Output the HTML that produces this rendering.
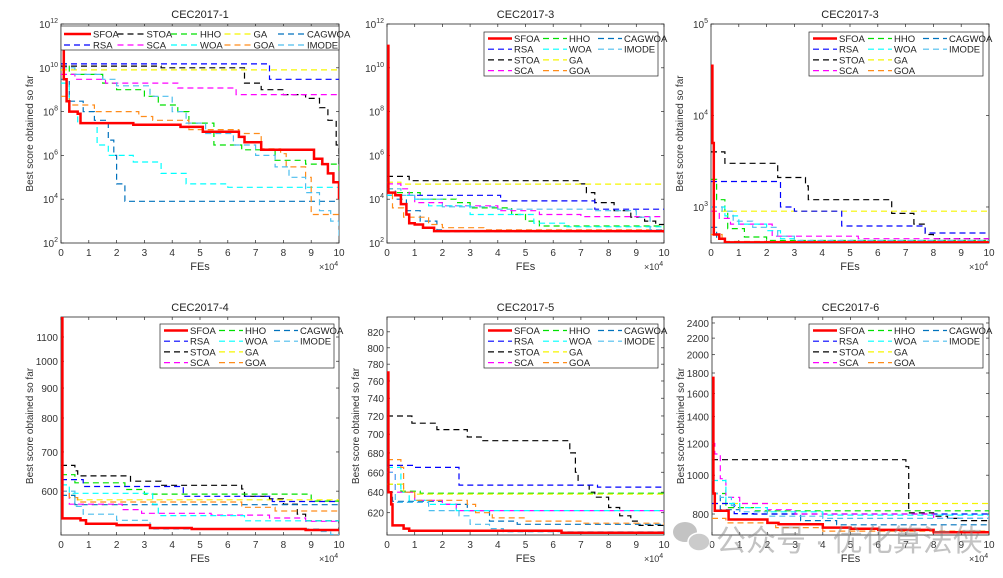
<!DOCTYPE html>
<html><head><meta charset="utf-8">
<style>
html,body{margin:0;padding:0;background:#fff;}
svg{display:block;font-family:"Liberation Sans",Arial,sans-serif;}
</style></head>
<body>
<svg id="fig" width="1003" height="578" viewBox="0 0 1003 578" xmlns="http://www.w3.org/2000/svg"></svg>
<script>
// ---------- data (x in units of 1e4 FEs, y = best score) ----------
const P1_SFOA=[[0,8e10],[0.1,3e9],[0.2,3e8],[0.3,1e8],[0.6,8e7],[0.7,3e7],[2.6,2.5e7],[4.3,2e7],[5.1,1.2e7],[6.4,7e6],[6.6,4e6],[7.2,1.8e6],[9.1,7e5],[9.4,4e5],[9.6,1.5e5],[9.8,6e4],[10,1e4]];
const P1_STOA=[[0,1.2e10],[3.6,1e10],[6.6,2e9],[7.2,1e9],[8.0,6e8],[8.8,4e8],[9.3,1.5e8],[9.6,4e7],[9.9,3e6],[10,3e5]];
const P1_HHO=[[0,1.5e10],[0.3,5e9],[1.5,2e9],[2,1e9],[3,5e8],[3.5,2e8],[4.2,1e8],[4.6,3e7],[5.5,3e6],[6.5,1.8e6],[7.7,6e5],[8.8,4e5],[10,2e5]];
const P1_GA=[[0,8e9],[10,8e9]];
const P1_CAGWOA=[[0,3e9],[0.3,3e8],[0.8,1e8],[1.2,4e7],[1.7,5e6],[1.9,1e6],[2.0,5e4],[2.3,8e3],[10,8e3]];
const P1_RSA=[[0,1.5e10],[7.5,3e9],[10,3e9]];
const P1_SCA=[[0,5e9],[0.5,3e9],[1.6,2e9],[4.2,1.2e9],[6.3,6e8],[10,6e8]];
const P1_WOA=[[0,2e9],[0.3,1e8],[0.6,3e7],[1.3,3e6],[1.7,1e6],[2.6,5e5],[3.6,1.5e5],[4.5,5e4],[6,3.5e4],[10,3.5e4]];
const P1_GOA=[[0,5e8],[0.3,2e8],[1.2,1e8],[2.8,6e7],[3.3,4e7],[4.6,1.5e7],[6.4,1e7],[7.2,2e6],[7.9,1.2e6],[8.1,3e5],[8.8,1e5],[9,2e3],[10,2e3]];
const P1_IMODE=[[0,1e10],[0.5,5e9],[1.5,3e9],[2,1.5e9],[3.2,5e8],[4,1e8],[4.5,3e7],[5.2,1e7],[6.2,3e6],[7,1e6],[7.7,3e5],[8.2,1e5],[8.8,2e4],[9.3,3e3],[9.7,1e3],[10,2e2]];

const P2_SFOA=[[0,1e11],[0.05,2e4],[0.3,1.5e4],[0.5,6e3],[0.7,2e3],[0.8,800],[1.0,700],[1.3,500],[1.7,350],[10,300]];
const P2_STOA=[[0,1.1e5],[0.8,7e4],[6.9,5e4],[7.2,2e4],[7.5,7e3],[8.2,3e3],[8.8,1.5e3],[9.3,1e3],[9.7,700],[10,700]];
const P2_HHO=[[0,2e4],[1.2,1e4],[2.5,7e3],[3,4e3],[4.5,2e3],[5,1e3],[5.5,600],[10,500]];
const P2_GA=[[0,6e4],[0.5,4.9e4],[10,4.9e4]];
const P2_CAGWOA=[[0,3e4],[0.3,1e4],[0.7,3e3],[1.2,1e3],[1.8,400],[2,330],[10,330]];
const P2_RSA=[[0,1.5e4],[4.1,8.4e3],[7.5,3.5e3],[10,3.5e3]];
const P2_SCA=[[0,5e4],[0.5,3e4],[0.8,1.5e4],[1,7e3],[2,5e3],[4,3e3],[5.5,2e3],[7,1.6e3],[10,1.6e3]];
const P2_WOA=[[0,1.5e4],[1,1e4],[1.5,5e3],[3,2e3],[5.3,800],[6.5,550],[10,500]];
const P2_GOA=[[0,3e4],[0.2,4e3],[0.6,1.5e3],[1.5,700],[2,500],[3.5,400],[10,350]];
const P2_IMODE=[[0,3e4],[0.5,1.5e4],[1,1e4],[2,4.5e3],[4,3.5e3],[7.5,3e3],[9,1.5e3],[9.5,400],[10,300]];

const P3_SFOA=[[0,3.5e4],[0.05,5e3],[0.1,500],[0.3,450],[0.5,410],[10,405]];
const P3_STOA=[[0,4e3],[0.5,3e3],[2.4,2.1e3],[3.4,1.7e3],[3.5,1.2e3],[6.5,850],[7.3,650],[7.7,500],[8,450],[10,440]];
const P3_HHO=[[0,2e3],[0.2,1.2e3],[0.5,900],[0.6,580],[1.2,470],[2,430],[10,410]];
const P3_GA=[[0,900],[10,900]];
const P3_CAGWOA=[[0,600],[0.2,450],[0.5,410],[10,405]];
const P3_RSA=[[0,1.9e3],[2.5,1e3],[3,900],[4.7,620],[7.7,520],[10,520]];
const P3_SCA=[[0,900],[0.3,750],[0.7,650],[2.2,480],[5.3,450],[10,440]];
const P3_WOA=[[0,1e3],[0.5,800],[1,650],[2,550],[2.5,450],[3,420],[10,410]];
const P3_GOA=[[0,500],[0.4,420],[10,410]];
const P3_IMODE=[[0,1e3],[0.4,900],[0.8,700],[1.5,600],[2.4,480],[3,430],[10,420]];

const P4_SFOA=[[0,1190],[0.05,539],[0.7,535],[0.9,528],[2,525],[3.2,519],[4.7,517],[8.8,515],[10,513]];
const P4_STOA=[[0,664],[0.5,650],[0.6,637],[2.5,624],[3.6,614],[6.5,605],[6.6,588],[7.5,582],[8,570],[8.5,548],[8.8,534],[10,515]];
const P4_HHO=[[0,640],[0.5,620],[2.3,604],[3,593],[9,577],[10,577]];
const P4_GA=[[0,590],[0.5,580],[10,580]];
const P4_CAGWOA=[[0,590],[0.5,569],[10,569]];
const P4_RSA=[[0,628],[0.8,611],[4.4,588],[7.6,576],[10,576]];
const P4_SCA=[[0,600],[0.3,570],[2.2,558],[2.9,550],[5.4,546],[7.5,540],[8.8,533],[10,533]];
const P4_WOA=[[0,615],[0.3,595],[3.3,570],[3.5,545],[6.6,534],[10,534]];
const P4_GOA=[[0,600],[0.3,585],[0.6,575],[6.5,563],[7.7,555],[10,555]];
const P4_IMODE=[[0,600],[0.5,565],[0.8,548],[2,535],[3.2,517],[9.3,512],[9.7,506],[10,506]];

const P5_SFOA=[[0,770],[0.05,640],[0.15,628],[0.2,608],[0.6,605],[0.8,603],[6.3,601],[10,600]];
const P5_STOA=[[0,720],[0.9,712],[1.8,705],[2.9,697],[3.4,693],[6.6,680],[6.8,660],[6.9,647],[7.3,640],[7.5,635],[8,625],[8.4,617],[8.8,612],[9.1,608],[10,605]];
const P5_HHO=[[0,648],[0.5,641],[1.2,639],[10,639]];
const P5_GA=[[0,648],[0.6,640],[1,638],[10,637]];
const P5_CAGWOA=[[0,640],[0.2,631],[2,628],[2.9,622],[3.7,612],[4.7,609],[10,607]];
const P5_RSA=[[0,667],[1,665],[2.6,647],[7.6,645],[10,645]];
const P5_SCA=[[0,660],[0.3,640],[1,632],[2,628],[2.5,622],[10,622]];
const P5_WOA=[[0,665],[0.5,640],[0.8,632],[1.5,628],[2.5,622],[10,622]];
const P5_GOA=[[0,673],[0.5,665],[0.6,640],[1,632],[2.9,628],[3.2,620],[3.8,615],[5,612],[7,610],[10,608]];
const P5_IMODE=[[0,660],[0.3,630],[1.5,622],[2.6,617],[3,609],[3.7,605],[4.2,602],[10,600]];

const P6_SFOA=[[0,1750],[0.05,900],[0.1,815],[0.6,775],[2,760],[2.4,754],[4,740],[5,735],[6,730],[8,720],[10,715]];
const P6_STOA=[[0,1093],[7,1050],[7.1,805],[8,790],[8.5,780],[9,770],[10,760]];
const P6_HHO=[[0,900],[0.5,830],[1.5,815],[10,810]];
const P6_GA=[[0,850],[10,836]];
const P6_CAGWOA=[[0,900],[0.3,820],[1,800],[3.2,770],[4.5,752],[10,752]];
const P6_RSA=[[0,850],[0.8,802],[1.5,800],[10,800]];
const P6_SCA=[[0,1200],[0.1,1130],[0.3,980],[0.5,880],[1,850],[2,820],[3,800],[8,780],[10,778]];
const P6_WOA=[[0,970],[0.5,850],[1,830],[2,810],[4,795],[10,790]];
const P6_GOA=[[0,780],[0.5,760],[2.3,740],[4,725],[10,715]];
const P6_IMODE=[[0,900],[0.3,880],[0.7,840],[1,810],[2,790],[4,780],[10,775]];

const algNames=["SFOA","STOA","HHO","GA","CAGWOA","RSA","SCA","WOA","GOA","IMODE"];
const titles=["CEC2017-1","CEC2017-3","CEC2017-3","CEC2017-4","CEC2017-5","CEC2017-6"];
const xTicks=[0,1,2,3,4,5,6,7,8,9,10];
const yTicks1=[2,4,6,8,10,12];
const yTicks3=[3,4,5];
const yTicks4=[600,700,800,900,1000,1100];
const yTicks5=[620,640,660,680,700,720,740,760,780,800,820];
const yTicks6=[800,1000,1200,1400,1600,1800,2000,2200,2400];

const colors={SFOA:"#ff0000",STOA:"#000000",HHO:"#00e000",GA:"#f5f500",CAGWOA:"#0072bd",RSA:"#0000ff",SCA:"#ff00ff",WOA:"#00ffff",GOA:"#ff8c1a",IMODE:"#4dbeee"};
const series=[
 {SFOA:P1_SFOA,STOA:P1_STOA,HHO:P1_HHO,GA:P1_GA,CAGWOA:P1_CAGWOA,RSA:P1_RSA,SCA:P1_SCA,WOA:P1_WOA,GOA:P1_GOA,IMODE:P1_IMODE},
 {SFOA:P2_SFOA,STOA:P2_STOA,HHO:P2_HHO,GA:P2_GA,CAGWOA:P2_CAGWOA,RSA:P2_RSA,SCA:P2_SCA,WOA:P2_WOA,GOA:P2_GOA,IMODE:P2_IMODE},
 {SFOA:P3_SFOA,STOA:P3_STOA,HHO:P3_HHO,GA:P3_GA,CAGWOA:P3_CAGWOA,RSA:P3_RSA,SCA:P3_SCA,WOA:P3_WOA,GOA:P3_GOA,IMODE:P3_IMODE},
 {SFOA:P4_SFOA,STOA:P4_STOA,HHO:P4_HHO,GA:P4_GA,CAGWOA:P4_CAGWOA,RSA:P4_RSA,SCA:P4_SCA,WOA:P4_WOA,GOA:P4_GOA,IMODE:P4_IMODE},
 {SFOA:P5_SFOA,STOA:P5_STOA,HHO:P5_HHO,GA:P5_GA,CAGWOA:P5_CAGWOA,RSA:P5_RSA,SCA:P5_SCA,WOA:P5_WOA,GOA:P5_GOA,IMODE:P5_IMODE},
 {SFOA:P6_SFOA,STOA:P6_STOA,HHO:P6_HHO,GA:P6_GA,CAGWOA:P6_CAGWOA,RSA:P6_RSA,SCA:P6_SCA,WOA:P6_WOA,GOA:P6_GOA,IMODE:P6_IMODE}
];

const panels=[
 {l:61,r:339,t:24,b:243,ymin:1e2,ymax:1e12,ticks:yTicks1,pow:true,leg:"wide",lx:61,ly:27,ylab:true},
 {l:387,r:664,t:24,b:243,ymin:1e2,ymax:1e12,ticks:yTicks1,pow:true,leg:"box",lx:484,ly:32},
 {l:711,r:989,t:24,b:243,ymin:404,ymax:1e5,ticks:yTicks3,pow:true,leg:"box",lx:809,ly:32,ylab:true},
 {l:61,r:339,t:317,b:535,ymin:505,ymax:1190,ticks:yTicks4,pow:false,leg:"box",lx:160,ly:324,ylab:true},
 {l:387,r:664,t:317,b:535,ymin:599,ymax:839,ticks:yTicks5,pow:false,leg:"box",lx:484,ly:324,ylab:true},
 {l:712,r:989,t:317,b:535,ymin:709,ymax:2484,ticks:yTicks6,pow:false,leg:"box",lx:809,ly:324,ylab:true}
];

const NS="http://www.w3.org/2000/svg";
const svg=document.getElementById("fig");
function mk(tag,attrs,parent){const e=document.createElementNS(NS,tag);for(const k in attrs)e.setAttribute(k,attrs[k]);(parent||svg).appendChild(e);return e;}
const DASH="6,4";

panels.forEach((p,i)=>{
  const g=mk("g",{});
  
  
  const xs=v=>p.l+(v/10)*(p.r-p.l);
  const lmin=Math.log(p.ymin),lmax=Math.log(p.ymax);
  const ys=v=>p.b-(Math.log(v)-lmin)/(lmax-lmin)*(p.b-p.t);
  const cp=mk("clipPath",{id:"cp"+i},g);
  mk("rect",{x:p.l,y:p.t,width:p.r-p.l,height:p.b-p.t},cp);
  const fr=mk("rect",{x:p.l,y:p.t,width:p.r-p.l,height:p.b-p.t,fill:"#fff",stroke:"#262626","stroke-width":0.8},g);
  
  
  const tt=mk("text",{x:(p.l+p.r)/2,y:p.t-6,"text-anchor":"middle","font-size":11,fill:"#222"},g);
  tt.textContent=titles[i];
  
  
  xTicks.forEach(v=>{
    const x=xs(v);
    mk("line",{x1:x,x2:x,y1:p.b,y2:p.b-3,stroke:"#262626","stroke-width":0.7},g);
    mk("line",{x1:x,x2:x,y1:p.t,y2:p.t+3,stroke:"#262626","stroke-width":0.7},g);
    const t=mk("text",{x:x,y:p.b+13,"text-anchor":"middle","font-size":10,fill:"#333"},g);
    t.textContent=v;
    
    
  });
  const xl=mk("text",{x:(p.l+p.r)/2,y:p.b+27,"text-anchor":"middle","font-size":11,fill:"#333"},g);
  xl.textContent="FEs";
  
  
  const xm=mk("text",{x:p.r-20,y:p.b+27,"font-size":9,fill:"#333"},g);
  xm.innerHTML='×10<tspan dy="-4" font-size="7">4</tspan>';
  
  
  p.ticks.forEach(v=>{
    const val=p.pow?Math.pow(10,v):v;
    const y=ys(val);
    mk("line",{x1:p.l,x2:p.l+3,y1:y,y2:y,stroke:"#262626","stroke-width":0.7},g);
    mk("line",{x1:p.r,x2:p.r-3,y1:y,y2:y,stroke:"#262626","stroke-width":0.7},g);
    const t=mk("text",{x:p.l-3,y:y+4,"text-anchor":"end","font-size":10,fill:"#333"},g);
    if(p.pow){t.innerHTML='10<tspan dy="-5" font-size="7">'+v+'</tspan>';}
    else t.textContent=v;
    
    
  });
  if(p.ylab){
    const cx=p.l-28;
    const yl=mk("text",{x:cx,y:(p.t+p.b)/2,"text-anchor":"middle","font-size":10,fill:"#333",transform:"rotate(-90 "+cx+" "+((p.t+p.b)/2)+")"},g);
    yl.textContent="Best score obtained so far";
    
    
  }
  const lg=mk("g",{"clip-path":"url(#cp"+i+")"},g);
  const order=["STOA","HHO","GA","CAGWOA","RSA","SCA","WOA","GOA","IMODE","SFOA"];
  order.forEach(name=>{
    const pts=series[i][name];
    let d="M"+xs(pts[0][0]).toFixed(1)+","+ys(pts[0][1]).toFixed(1);
    for(let k=1;k<pts.length;k++){
      d+=" L"+xs(pts[k][0]).toFixed(1)+","+ys(pts[k-1][1]).toFixed(1);
      d+=" L"+xs(pts[k][0]).toFixed(1)+","+ys(pts[k][1]).toFixed(1);
    }
    const path=mk("path",{d:d,fill:"none",stroke:colors[name],"stroke-width":name==="SFOA"?2.5:1.2,"stroke-dasharray":name==="SFOA"?"none":DASH},lg);
    
    
  });
  const L=mk("g",{},g);
  
  
  if(p.leg==="wide"){
    mk("rect",{x:p.l,y:p.t+2,width:p.r-p.l,height:24,fill:"#fff",stroke:"#262626","stroke-width":0.7},L);
    algNames.forEach((n,k)=>{
      const col=k%5,row=Math.floor(k/5);
      const x0=p.l+3+col*53.5,yy=p.t+10+row*11;
      mk("line",{x1:x0,x2:x0+27,y1:yy,y2:yy,stroke:colors[n],"stroke-width":n==="SFOA"?2.5:1.2,"stroke-dasharray":n==="SFOA"?"none":DASH},L);
      const t=mk("text",{x:x0+29,y:yy+3.5,"font-size":9.5,fill:"#222"},L);
      t.textContent=n;
      
      
    });
  } else {
    mk("rect",{x:p.lx,y:p.ly,width:174,height:44,fill:"#fff",stroke:"#262626","stroke-width":0.7},L);
    const cols=[["SFOA","RSA","STOA","SCA"],["HHO","WOA","GA","GOA"],["CAGWOA","IMODE"]];
    cols.forEach((c,ci)=>c.forEach((n,ri)=>{
      const x0=p.lx+4+ci*55,yy=p.ly+6.5+ri*10.7;
      mk("line",{x1:x0,x2:x0+24,y1:yy,y2:yy,stroke:colors[n],"stroke-width":n==="SFOA"?2.5:1.2,"stroke-dasharray":n==="SFOA"?"none":DASH},L);
      const t=mk("text",{x:x0+26,y:yy+3.5,"font-size":9.5,fill:"#222"},L);
      t.textContent=n;
      
      
    }));
  }
});
const wm=mk("g",{opacity:0.5});


mk("ellipse",{cx:685,cy:532,rx:12,ry:10,fill:"#888"},wm);
mk("ellipse",{cx:699,cy:542,rx:11,ry:9,fill:"#999",stroke:"#fff","stroke-width":1.5},wm);
const wt=mk("text",{x:716,y:551,"font-size":30,fill:"#888","font-family":"'Liberation Sans','Noto Sans CJK SC',sans-serif"},wm);
wt.textContent="公众号 · 优化算法侠";
</script>
</body></html>
